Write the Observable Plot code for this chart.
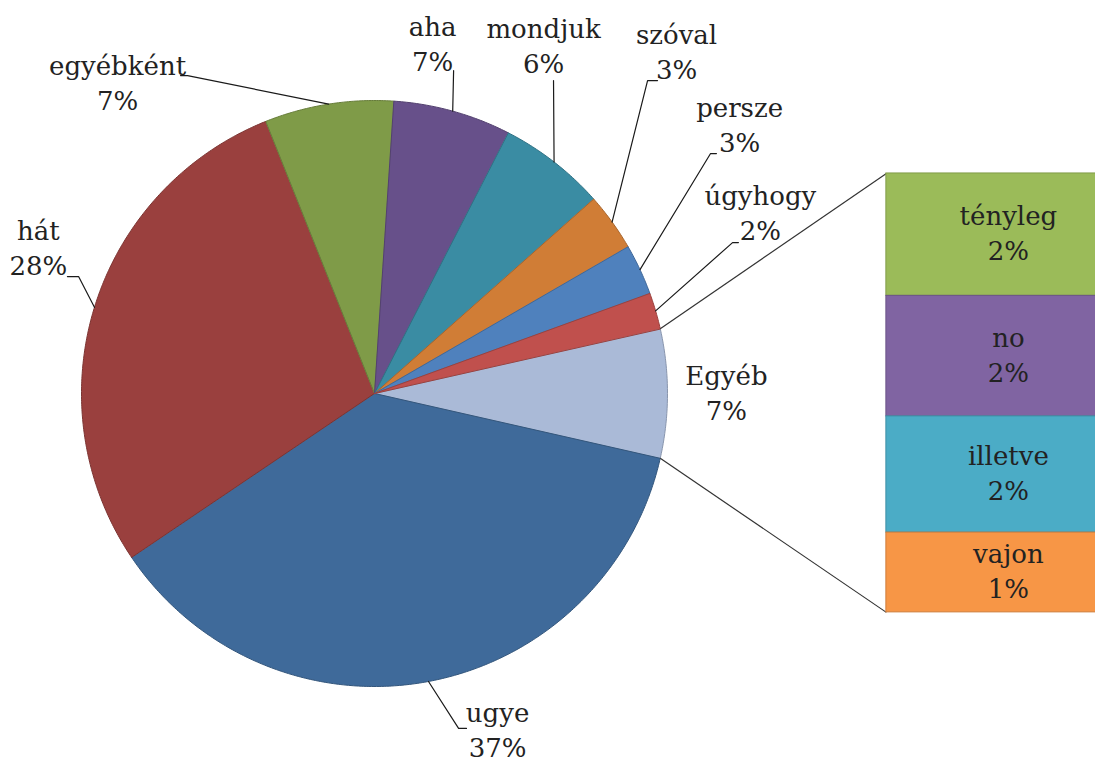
<!DOCTYPE html>
<html><head><meta charset="utf-8">
<script src="https://cdn.jsdelivr.net/npm/d3@7"></script>
<script src="https://cdn.jsdelivr.net/npm/@observablehq/plot@0.6"></script>
<style>
html,body{margin:0;padding:0;background:#fff;overflow:hidden;}
#chart{width:1095px;height:765px;overflow:hidden;}
</style>
</head><body><div id="chart"></div>
<script>
// ---- data ----
const mainLabels = ["ugye", "hát", "egyébként", "aha", "mondjuk", "szóval", "persze", "úgyhogy"];
const mainValues = [37.0, 28.4, 7.1, 6.5, 5.9, 3.2, 2.8, 2.0];
const mainColors = ["#3F6A9A", "#9A403E", "#7F9B48", "#67508A", "#3A8CA3", "#D07D36", "#4F81BD", "#C0504D"];
const otherLabel = "Egyéb";
const otherColor = "#AABAD7";
const barLabels = ["tényleg", "no", "illetve", "vajon"];
const barValues = [1.98, 1.95, 1.88, 1.29];
const barColors = ["#9BBB59", "#8064A2", "#4BACC6", "#F79646"];

// ---- layout (pie radius = 1 unit) ----
const W = 1095, H = 765, RPX = 293, CX = 374, CY = 393;
const BAR = {x0: 1.747, x1: 2.58, top: 0.751, height: 1.498};
const LINE_GAP = 17.5; // half distance between the two label lines, px
const labelPos = {
  "egyébként": [-0.877, 1.055], "aha": [0.198, 1.188], "mondjuk": [0.577, 1.181],
  "szóval": [1.031, 1.160], "persze": [1.246, 0.911], "úgyhogy": [1.317, 0.611],
  "Egyéb": [1.201, -0.003], "hát": [-1.147, 0.491], "ugye": [0.420, -1.152]
};
const elbows = {
  "egyébként": [[-0.662, 1.085], [-0.638, 1.085]], "aha": [[0.270, 1.102]], "mondjuk": [[0.611, 1.068]],
  "szóval": [[0.966, 1.068], [0.932, 1.068]], "persze": [[1.167, 0.819], [1.147, 0.819]],
  "úgyhogy": [[1.242, 0.515], [1.222, 0.515]], "hát": [[-1.048, 0.399], [-1.010, 0.399]],
  "ugye": [[0.314, -1.143], [0.287, -1.143]]
};

const pct = v => Math.round(v) + "%";
const otherTotal = d3.sum(barValues);
const slices = [{label: otherLabel, value: otherTotal, color: otherColor}]
  .concat(mainLabels.map((l, i) => ({label: l, value: mainValues[i], color: mainColors[i]})));
const total = d3.sum(slices, s => s.value);
let a = 90 - (otherTotal / total) * 360 / 2;
for (const s of slices) { s.a0 = a; a += s.value / total * 360; s.a1 = a; s.mid = (s.a0 + s.a1) / 2; }
const pt = (deg, r = 1) => [r * Math.sin(deg * Math.PI / 180), r * Math.cos(deg * Math.PI / 180)];
for (const s of slices) {
  const n = Math.max(2, Math.ceil((s.a1 - s.a0) / 0.5));
  const pts = [{x: 0, y: 0}];
  for (let i = 0; i <= n; i++) { const [x, y] = pt(s.a0 + (s.a1 - s.a0) * i / n); pts.push({x, y}); }
  s.pts = pts;
}

// bar segments
let yTop = BAR.top;
const barData = barLabels.map((l, i) => {
  const h = barValues[i] / otherTotal * BAR.height;
  const d = {label: l, value: barValues[i], color: barColors[i], stroke: d3.color(barColors[i]).darker(0.5).formatHex(),
    x1: BAR.x0, x2: BAR.x1, y1: yTop, y2: yTop - h, tx: (BAR.x0 + BAR.x1) / 2, ty: yTop - h / 2, pct: pct(barValues[i])};
  yTop -= h; return d;
});

const other = slices[0];
const [ox0, oy0] = pt(other.a0), [ox1, oy1] = pt(other.a1);
const connectors = [
  {x1: ox0, y1: oy0, x2: BAR.x0, y2: BAR.top},
  {x1: ox1, y1: oy1, x2: BAR.x0, y2: BAR.top - BAR.height}
];

const pieText = slices.map(s => ({tx: labelPos[s.label][0], ty: labelPos[s.label][1], label: s.label, pct: pct(s.value)}));
const leaders = slices.filter(s => elbows[s.label]).map(s => {
  const [ex, ey] = pt(s.mid);
  return elbows[s.label].map(([x, y]) => ({x, y})).concat([{x: ex, y: ey}]);
});

const FAMILY = "DejaVu Serif, Liberation Serif, serif";
const font = {fontFamily: FAMILY, fontSize: 26, fill: "#222"};

const marks = [];
for (const s of slices) {
  marks.push(Plot.line(s.pts, {x: "x", y: "y", fill: s.color, stroke: d3.color(s.color).darker(0.6).formatHex(), strokeWidth: 1, curve: "linear-closed"}));
}
marks.push(Plot.link(connectors, {x1: "x1", y1: "y1", x2: "x2", y2: "y2", stroke: "#333", strokeWidth: 1.2}));
marks.push(Plot.rect(barData, {x1: "x1", x2: "x2", y1: "y1", y2: "y2", fill: "color", stroke: "stroke", strokeWidth: 1, clip: true}));
for (const l of leaders) marks.push(Plot.line(l, {x: "x", y: "y", stroke: "#1a1a1a", strokeWidth: 1.2}));
for (const data of [pieText, barData]) {
  marks.push(Plot.text(data, {x: "tx", y: "ty", text: "label", dy: -LINE_GAP, ...font}));
  marks.push(Plot.text(data, {x: "tx", y: "ty", text: "pct", dy: LINE_GAP, ...font}));
}

const chart = Plot.plot({
  width: W, height: H,
  marginTop: 0, marginRight: 0, marginBottom: 0, marginLeft: 0,
  x: {domain: [-CX / RPX, (W - CX) / RPX], axis: null},
  y: {domain: [(CY - H) / RPX, CY / RPX], axis: null},
  color: {type: "identity"},
  marks
});
chart.setAttribute("font-family", FAMILY);
document.getElementById("chart").appendChild(chart);
</script>
</body></html>
